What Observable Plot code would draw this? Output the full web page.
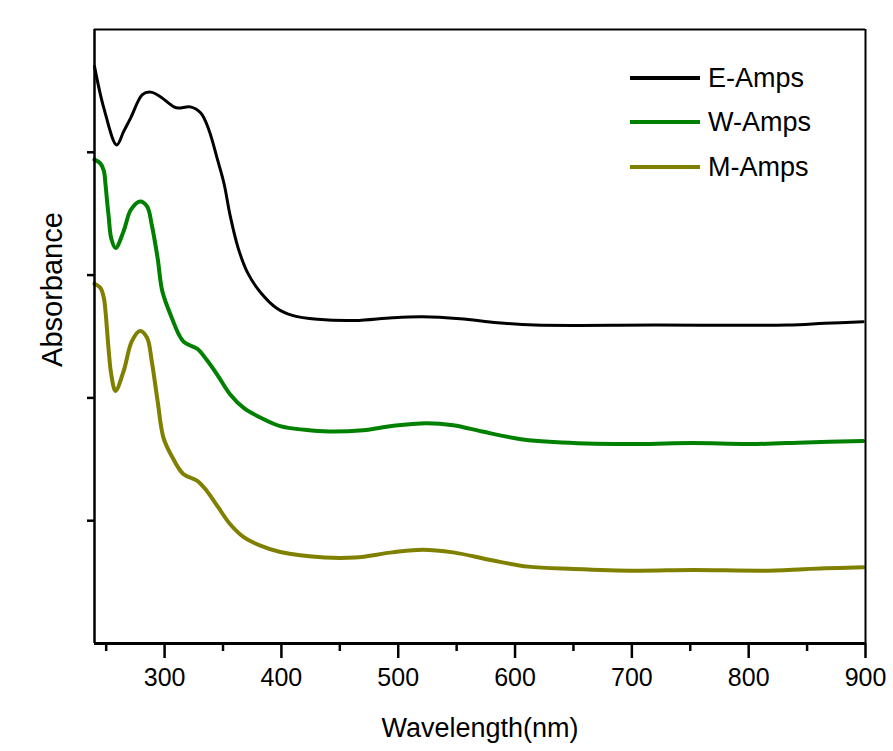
<!DOCTYPE html>
<html><head><meta charset="utf-8">
<script src="https://cdn.jsdelivr.net/npm/d3@7"></script>
<script src="https://cdn.jsdelivr.net/npm/@observablehq/plot@0.6"></script>
<style>
body{margin:0;background:#fff;}
#wrap{position:relative;width:893px;height:751px;background:#fff;}
.lg{position:absolute;left:630px;font-family:"Liberation Sans",Arial,sans-serif;font-size:27px;display:flex;align-items:center;height:30px;}
.lg span.sw{display:inline-block;width:70px;height:4px;margin-right:8px;}
</style>
</head><body><div id="wrap"></div>
<script>
const seriesNames = ["E-Amps", "W-Amps", "M-Amps"];
const seriesColors = ["#000000", "#008000", "#808000"];

const eWl  = [240, 248, 259, 265, 271, 281, 288, 296, 308, 312, 322, 331, 338, 345, 351, 356, 363, 371, 382, 396, 410, 431, 463, 495, 521, 553, 585, 617, 720, 833, 865, 898];
const eAbs = [4.70, 4.36, 4.06, 4.17, 4.28, 4.47, 4.49, 4.455, 4.37, 4.36, 4.37, 4.32, 4.18, 3.95, 3.74, 3.49, 3.22, 3.02, 2.86, 2.73, 2.67, 2.64, 2.63, 2.653, 2.661, 2.645, 2.612, 2.593, 2.593, 2.593, 2.607, 2.62];

const wWl  = [240, 245, 248, 249.4, 250.8, 252.2, 254.3, 258, 265, 271, 279, 285, 289, 294, 298, 305, 316, 328, 336, 345, 356, 368, 382, 399, 420, 441, 470, 495, 524, 547, 572, 605, 640, 704, 752, 801, 849, 898];
const wAbs = [3.94, 3.91, 3.85, 3.74, 3.60, 3.47, 3.30, 3.22, 3.36, 3.53, 3.60, 3.56, 3.41, 3.14, 2.87, 2.68, 2.46, 2.40, 2.31, 2.19, 2.03, 1.916, 1.84, 1.77, 1.74, 1.726, 1.737, 1.772, 1.794, 1.778, 1.726, 1.664, 1.637, 1.624, 1.632, 1.624, 1.637, 1.65];

const mWl  = [240, 245, 248, 249.4, 250.8, 252.2, 254.3, 258, 265, 272, 279, 285, 289, 294, 299, 306, 316, 328, 336, 346, 356, 368, 382, 399, 437, 463, 495, 521, 547, 579, 611, 650, 704, 752, 817, 865, 898];
const mAbs = [2.93, 2.897, 2.815, 2.707, 2.545, 2.382, 2.193, 2.057, 2.22, 2.463, 2.545, 2.49, 2.30, 1.976, 1.677, 1.528, 1.38, 1.325, 1.244, 1.108, 0.973, 0.864, 0.797, 0.745, 0.70, 0.70, 0.742, 0.764, 0.742, 0.68, 0.626, 0.607, 0.593, 0.599, 0.593, 0.612, 0.62];

const xTicks = [300, 400, 500, 600, 700, 800, 900];
const xMinorTicks = [250, 350, 450, 550, 650, 750, 850];
const yTicks = [1, 2, 3, 4];
const xDomain = [240, 900];
const yDomain = [0, 5];

const wls = [eWl, wWl, mWl];
const abss = [eAbs, wAbs, mAbs];
const widths = [3, 4, 4];
const series = seriesNames.map((name, i) => wls[i].map((w, j) => ({wl: w, abs: abss[i][j], series: name})));

const font = '"Liberation Sans", Arial, sans-serif';

const plot = Plot.plot({
  width: 893, height: 751,
  marginLeft: 94, marginRight: 28, marginTop: 29, marginBottom: 108,
  style: {fontFamily: font, background: "white", color: "black", overflow: "visible"},
  x: {domain: xDomain},
  y: {domain: yDomain},
  color: {domain: seriesNames, range: seriesColors},
  marks: [
    ...series.map((d, i) => Plot.line(d, {x: "wl", y: "abs", stroke: "series", strokeWidth: widths[i], curve: "catmull-rom"})),
    Plot.ruleY([yDomain[1]], {stroke: "black", strokeWidth: 2}),
    Plot.ruleX([xDomain[1]], {stroke: "black", strokeWidth: 2, y1: yDomain[0], y2: yDomain[1]}),
    Plot.ruleX([xDomain[0]], {stroke: "black", strokeWidth: 2.5, y1: yDomain[0], y2: yDomain[1]}),
    Plot.ruleY([yDomain[0]], {stroke: "black", strokeWidth: 3}),
    Plot.axisX({ticks: xTicks, tickSize: 15, tickPadding: 10, fontSize: 25, label: null, strokeWidth: 2.5, tickFormat: d => String(d)}),
    Plot.axisX({ticks: xMinorTicks, tickSize: 8, text: null, label: null, strokeWidth: 2.5}),
    Plot.axisY({ticks: yTicks, tickSize: 7, text: null, label: null, strokeWidth: 2.5}),
    Plot.text(["Wavelength(nm)"], {text: d => d, frameAnchor: "bottom", dy: 93, fontSize: 27}),
    Plot.text(["Absorbance"], {text: d => d, frameAnchor: "left", textAnchor: "middle", rotate: -90, dx: -42, dy: -47, fontSize: 29, letterSpacing: "1.7px"})
  ]
});

const wrap = document.getElementById("wrap");
wrap.appendChild(plot);
const legendTops = [63, 107, 152];
seriesNames.forEach((name, i) => {
  const div = document.createElement("div");
  div.className = "lg";
  div.style.top = legendTops[i] + "px";
  const sw = document.createElement("span");
  sw.className = "sw";
  sw.style.background = seriesColors[i];
  const t = document.createElement("span");
  t.textContent = name;
  div.appendChild(sw); div.appendChild(t);
  wrap.appendChild(div);
});
</script>
</body></html>
